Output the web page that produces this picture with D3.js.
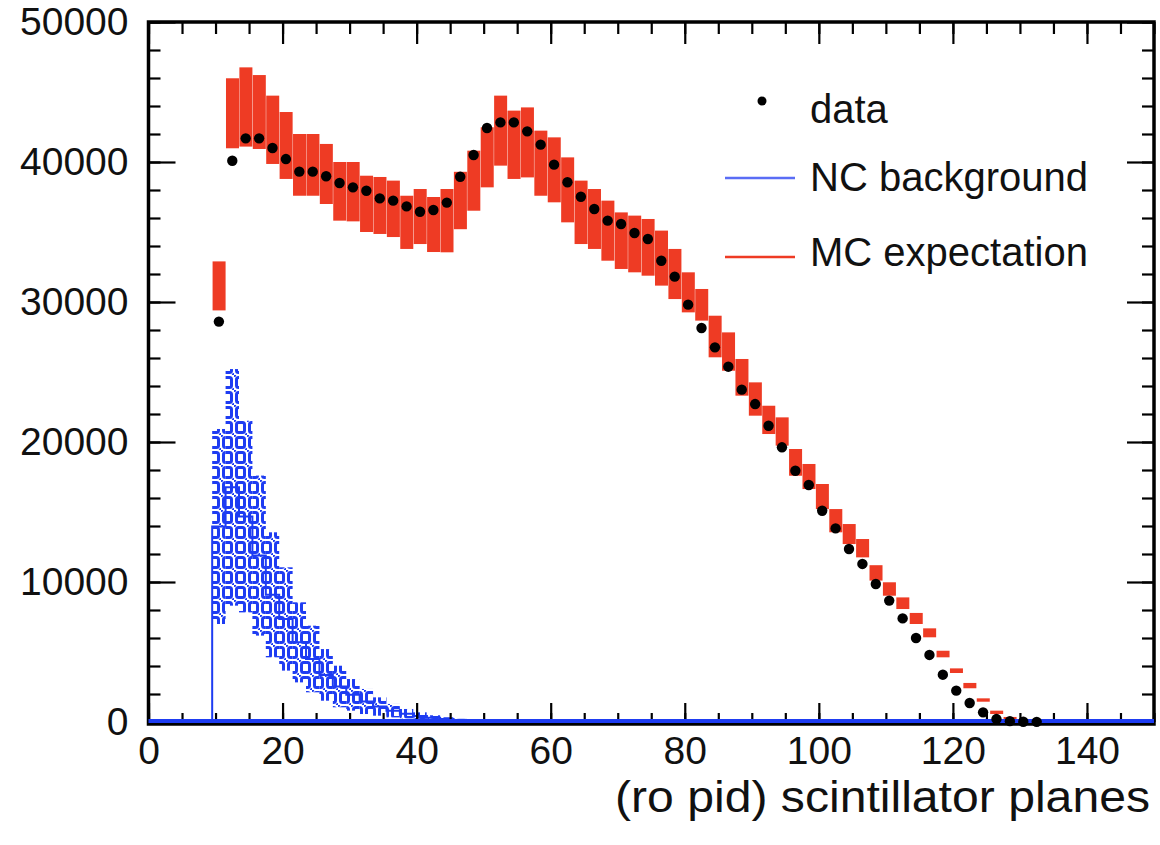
<!DOCTYPE html>
<html>
<head>
<meta charset="utf-8">
<script src="https://cdn.jsdelivr.net/npm/d3@7/dist/d3.min.js"></script>
<style>
  body { margin: 0; background: #fff; }
  svg text { font-family: "Liberation Sans", Arial, Helvetica, sans-serif; fill: #111; }
</style>
</head>
<body>
<svg id="chart" width="1160" height="845"></svg>
<script>
// bin centres (2 planes per bin)
var dataBins = [10.5,12.5,14.5,16.5,18.5,20.5,22.5,24.5,26.5,28.5,30.5,32.5,34.5,36.5,38.5,40.5,42.5,44.5,46.5,48.5,
  50.5,52.5,54.5,56.5,58.5,60.5,62.5,64.5,66.5,68.5,70.5,72.5,74.5,76.5,78.5,80.5,82.5,84.5,86.5,88.5,
  90.5,92.5,94.5,96.5,98.5,100.5,102.5,104.5,106.5,108.5,110.5,112.5,114.5,116.5,118.5,120.5,122.5,124.5,126.5,128.5,
  130.5,132.5];
var dataValues = [28600,40090,41690,41690,41000,40210,39310,39310,38980,38500,38190,37950,37400,37240,36830,36450,36570,37100,38950,40500,
  42430,42830,42830,42190,41240,39810,38550,37520,36640,35810,35570,34930,34500,32950,31810,29810,28140,26760,25380,23740,
  22710,21160,19620,17950,16930,15090,13830,12360,11290,9860,8670,7400,6000,4790,3380,2240,1360,690,210,60,
  20,10];

var mcBins = dataBins.slice(0, 60);
var mcHigh = [32900,45980,46760,46210,44740,43570,42000,42000,41290,40000,40000,39020,38930,38670,37590,38070,37500,38070,39300,40810,
  42480,44740,43670,43900,42240,41760,40330,38670,38070,37240,36400,36170,35930,35100,33790,32120,30930,29020,27830,25930,
  24260,22590,21760,19500,18430,17000,15210,14140,13070,11200,9980,8900,7790,6690,5090,3830,2790,1690,810,360];
var mcLow = [29400,40980,41100,40930,39860,38790,37590,37590,37000,35810,35760,35000,34860,34640,33790,34140,33570,33550,35200,36520,
  38190,39740,38790,38900,37590,37120,35690,34140,33790,32950,32360,32120,31880,31170,30210,29260,28670,26050,25090,23310,
  21880,20570,19740,17590,16640,15210,13550,12710,11760,10100,9020,8070,7000,6050,4620,3500,2410,1450,570,200];

var ncBins = dataBins.slice(0, 22);
var ncHigh = [20930,25210,21520,17600,13550,11050,8550,6880,5210,4020,3070,2360,1760,1290,930,690,480,340,230,150,100,60];
var ncLow = [7000,8310,7830,6170,4620,3670,2830,2120,1520,1050,810,570,450,330,260,180,120,80,50,30,20,10];

var xMajor = [0,20,40,60,80,100,120,140];
var yMajor = [0,10000,20000,30000,40000,50000];
var legendLabels = ["data", "NC background", "MC expectation"];

var binWidth = 2;
var red = "#ee3b24", blue = "#1e3cf2";

var svg = d3.select("#chart");
var x = d3.scaleLinear().domain([0, 150]).range([148.5, 1154]);
var y = d3.scaleLinear().domain([0, 50000]).range([722, 22]);

// hollow-box fill pattern for the NC band
var defs = svg.append("defs");
var pat = defs.append("pattern").attr("id", "ncfill").attr("patternUnits", "userSpaceOnUse")
  .attr("width", 13).attr("height", 15);
pat.append("rect").attr("x", 2.5).attr("y", 2.5).attr("width", 8).attr("height", 10).attr("rx", 2)
  .attr("fill", "none").attr("stroke", blue).attr("stroke-width", 3);
pat.append("circle").attr("cx", 0.5).attr("cy", 0.5).attr("r", 1.6).attr("fill", blue);
pat.append("circle").attr("cx", 12.5).attr("cy", 14.5).attr("r", 1.6).attr("fill", blue);

// MC expectation band
svg.append("g").selectAll("rect").data(mcBins).enter().append("rect")
  .attr("x", function(d){ return x(d - binWidth/2) + 0.4; })
  .attr("width", function(d){ return x(d + binWidth/2) - x(d - binWidth/2) - 0.4; })
  .attr("y", function(d, i){ return y(mcHigh[i]); })
  .attr("height", function(d, i){ return y(mcLow[i]) - y(mcHigh[i]); })
  .attr("fill", red);

// NC background band + histogram line
svg.append("g").selectAll("rect").data(ncBins).enter().append("rect")
  .attr("x", function(d){ return x(d - binWidth/2); })
  .attr("width", function(d){ return x(d + binWidth/2) - x(d - binWidth/2); })
  .attr("y", function(d, i){ return y(ncHigh[i]); })
  .attr("height", function(d, i){ return y(ncLow[i]) - y(ncHigh[i]); })
  .attr("fill", "url(#ncfill)");

var step = [[0, 0], [ncBins[0] - binWidth/2, 0]];
ncBins.forEach(function(d, i){
  var mid = (ncHigh[i] + ncLow[i]) / 2;
  step.push([d - binWidth/2, mid]);
  step.push([d + binWidth/2, mid]);
});
step.push([ncBins[ncBins.length-1] + binWidth/2, 0]);
step.push([150, 0]);
svg.append("path").datum(step)
  .attr("d", d3.line().x(function(p){ return x(p[0]); }).y(function(p){ return y(p[1]); }))
  .attr("fill", "none").attr("stroke", blue).attr("stroke-width", 2);

// frame + ticks
var axes = svg.append("g").attr("class", "axes");
function minorVals(lo, hi, st){ var v = []; for (var t = lo; t <= hi; t += st) v.push(t); return v; }

axes.append("g").attr("transform", "translate(0,722)")
  .call(d3.axisBottom(x).tickValues(minorVals(0, 150, 5)).tickSizeInner(-9).tickSizeOuter(0).tickFormat(""));
axes.append("g").attr("transform", "translate(0,722)")
  .call(d3.axisBottom(x).tickValues(xMajor).tickSizeInner(-19).tickSizeOuter(0).tickPadding(14).tickFormat(d3.format("d")));
axes.append("g").attr("transform", "translate(0,22)")
  .call(d3.axisTop(x).tickValues(minorVals(0, 150, 5)).tickSizeInner(-12).tickSizeOuter(0).tickFormat(""));
axes.append("g").attr("transform", "translate(0,22)")
  .call(d3.axisTop(x).tickValues(xMajor).tickSizeInner(-22).tickSizeOuter(0).tickFormat(""));
axes.append("g").attr("transform", "translate(148.5,0)")
  .call(d3.axisLeft(y).tickValues(minorVals(0, 50000, 2000)).tickSizeInner(-12).tickSizeOuter(0).tickFormat(""));
axes.append("g").attr("transform", "translate(148.5,0)")
  .call(d3.axisLeft(y).tickValues(yMajor).tickSizeInner(-27).tickSizeOuter(0).tickPadding(20).tickFormat(d3.format("d")));
axes.append("g").attr("transform", "translate(1154,0)")
  .call(d3.axisRight(y).tickValues(minorVals(0, 50000, 2000)).tickSizeInner(-12).tickSizeOuter(0).tickFormat(""));
axes.append("g").attr("transform", "translate(1154,0)")
  .call(d3.axisRight(y).tickValues(yMajor).tickSizeInner(-27).tickSizeOuter(0).tickFormat(""));

axes.selectAll(".domain").remove();
axes.selectAll(".tick line").attr("stroke", "#000").attr("stroke-width", 2.2);
axes.selectAll(".tick text").attr("font-size", 39).attr("fill", "#111");

svg.append("rect").attr("x", 148.5).attr("y", 22).attr("width", 1154 - 148.5).attr("height", 702)
  .attr("fill", "none").attr("stroke", "#000").attr("stroke-width", 3.5);

// blue baseline sits on top of the frame
svg.append("line").attr("x1", x(0)).attr("x2", x(150)).attr("y1", y(0) - 1).attr("y2", y(0) - 1)
  .attr("stroke", blue).attr("stroke-width", 4);

// data points
svg.append("g").selectAll("circle").data(dataBins).enter().append("circle")
  .attr("cx", function(d){ return x(d); })
  .attr("cy", function(d, i){ return y(dataValues[i]); })
  .attr("r", 5.2).attr("fill", "#000");

// legend
var lg = svg.append("g");
lg.append("circle").attr("cx", 762).attr("cy", 101).attr("r", 4.5).attr("fill", "#000");
lg.append("line").attr("x1", 725).attr("x2", 795).attr("y1", 178).attr("y2", 178)
  .attr("stroke", "#5a6df5").attr("stroke-width", 2.5);
lg.append("line").attr("x1", 725).attr("x2", 795).attr("y1", 257).attr("y2", 257)
  .attr("stroke", red).attr("stroke-width", 2.5);
lg.selectAll("text").data(legendLabels).enter().append("text")
  .attr("x", 810)
  .attr("y", function(d, i){ return [123, 191, 266][i]; })
  .attr("font-size", 40)
  .text(function(d){ return d; });

// axis title
svg.append("text").attr("x", 615).attr("y", 812)
  .attr("font-size", 45).attr("textLength", 535).attr("lengthAdjust", "spacingAndGlyphs")
  .text("(ro pid) scintillator planes");
</script>
</body>
</html>
